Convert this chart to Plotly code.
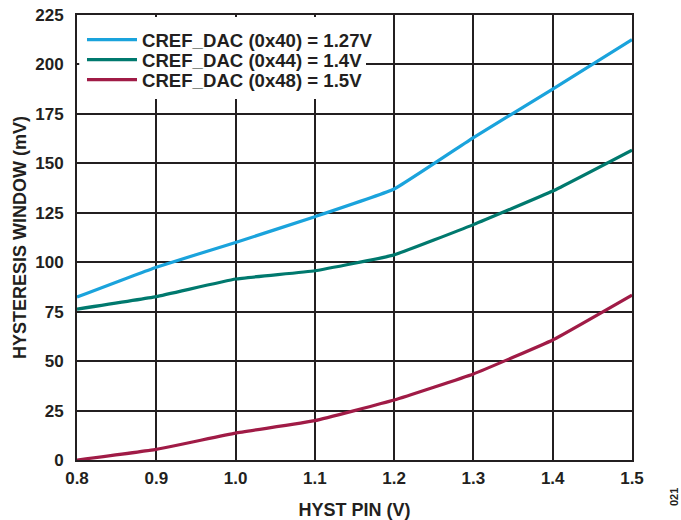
import plotly.graph_objects as go

hyst_pin = [0.8, 0.9, 1.0, 1.1, 1.2, 1.3, 1.4, 1.5]
cref_127 = [82.4, 97.5, 110, 123, 137, 163, 187.5, 212.5]
cref_14 = [76.3, 82.6, 91.5, 95.7, 103.7, 119, 136, 156.7]
cref_15 = [0, 5.4, 13.6, 19.9, 30.3, 43.5, 60.7, 83.4]

names = ["CREF_DAC (0x40) = 1.27V", "CREF_DAC (0x44) = 1.4V", "CREF_DAC (0x48) = 1.5V"]
colors = ["#1AA3DC", "#00796E", "#A01B46"]
x_ticks = [0.8, 0.9, 1.0, 1.1, 1.2, 1.3, 1.4, 1.5]
x_tick_labels = ["0.8", "0.9", "1.0", "1.1", "1.2", "1.3", "1.4", "1.5"]
y_ticks = [0, 25, 50, 75, 100, 125, 150, 175, 200, 225]

FONT = "Liberation Sans, Arial, sans-serif"
DARK = "#231F20"
W, H = 681, 520
L, R, T, B = 77, 49, 15, 60
PH = H - T - B

def py(pix):  # page pixel y -> paper y
    return (H - B - pix) / PH

legend_ids = ["legend", "legend2", "legend3"]
legend_rows = [40, 60, 80]

fig = go.Figure()
for ys, nm, c, lg in zip([cref_127, cref_14, cref_15], names, colors, legend_ids):
    fig.add_trace(go.Scatter(x=hyst_pin, y=ys, name=nm, mode="lines", legend=lg,
                             line=dict(color=c, width=3.2, shape="spline", smoothing=0.3)))

leg_common = dict(xanchor="left", yanchor="middle", bgcolor="rgba(0,0,0,0)", borderwidth=0,
                  font=dict(family=FONT, size=18.6, color=DARK, weight="bold"), itemwidth=50)
legends = {}
for lg, row in zip(legend_ids, legend_rows):
    legends[lg] = dict(x=0.009, y=py(row), **leg_common)

fig.update_layout(
    width=W, height=H,
    margin=dict(l=L, r=R, t=T, b=B, autoexpand=False),
    paper_bgcolor="white", plot_bgcolor="white",
    font=dict(family=FONT, color=DARK, size=17, weight="bold"),
    showlegend=True,
    **legends,
)
# white backing box for the legend (hides grid lines behind it)
fig.add_shape(type="rect", xref="paper", yref="paper", x0=0.004, x1=(366 - L) / (W - L - R),
              y0=py(99), y1=py(17), fillcolor="white", line=dict(width=0), layer="above")

fig.update_xaxes(range=[0.8, 1.5], tickvals=x_ticks, ticktext=x_tick_labels,
                 automargin=False,
                 showgrid=True, gridcolor=DARK, gridwidth=2,
                 showline=True, linecolor=DARK, linewidth=2, mirror=True,
                 zeroline=False, ticks="", ticklabelstandoff=2,
                 tickfont=dict(family=FONT, size=17, color=DARK, weight="bold"),
                 title=dict(text="HYST PIN (V)", standoff=16,
                            font=dict(family=FONT, size=18, color=DARK, weight="bold")))
fig.update_yaxes(range=[0, 225], tickvals=y_ticks,
                 automargin=False,
                 showgrid=True, gridcolor=DARK, gridwidth=2,
                 showline=True, linecolor=DARK, linewidth=2, mirror=True,
                 zeroline=False, ticks="", ticklabelstandoff=8,
                 tickfont=dict(family=FONT, size=17, color=DARK, weight="bold"),
                 title=dict(text="HYSTERESIS WINDOW (mV)", standoff=4,
                            font=dict(family=FONT, size=18, color=DARK, weight="bold")))

fig.add_annotation(text="021", xref="paper", yref="paper", x=(674 - L) / (W - L - R), y=py(497),
                   xanchor="center", yanchor="middle", showarrow=False, textangle=-90,
                   font=dict(family=FONT, size=11, color=DARK))

fig.write_html("out.html", post_script="document.body.style.margin='0';",
               config={"displayModeBar": False})
